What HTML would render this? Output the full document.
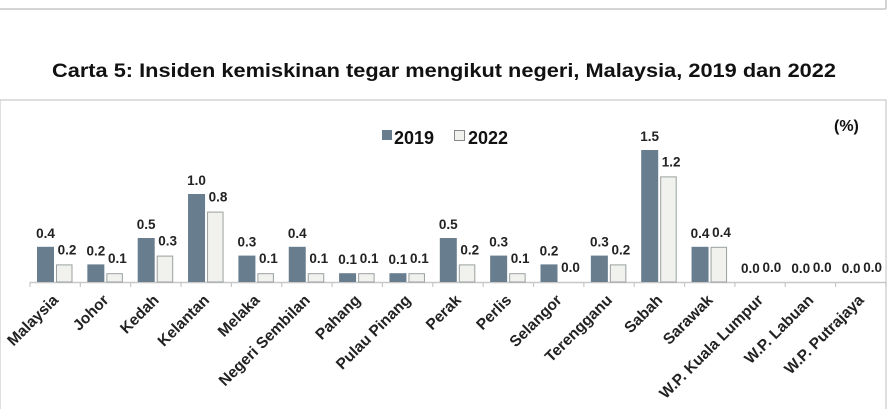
<!DOCTYPE html>
<html><head><meta charset="utf-8"><style>
html,body{margin:0;padding:0;background:#fff;}
svg{display:block;font-family:"Liberation Sans",Arial,sans-serif;font-weight:bold;}
</style></head><body>
<svg id="c" width="892" height="409" xmlns="http://www.w3.org/2000/svg">
<line x1="0" y1="9" x2="886" y2="9" stroke="#d4d4d4" stroke-width="2"/>
<line x1="886" y1="0" x2="886" y2="9" stroke="#d4d4d4" stroke-width="2"/>
<text x="444" y="77" font-size="19" text-anchor="middle" fill="#111" textLength="784" lengthAdjust="spacingAndGlyphs">Carta 5: Insiden kemiskinan tegar mengikut negeri, Malaysia, 2019 dan 2022</text>
<rect x="0" y="100" width="886" height="320" fill="none" stroke="#d4d4d4" stroke-width="1.5"/>
<rect x="382" y="130" width="10" height="10" fill="#687d8e"/>
<text x="394" y="144" font-size="18" fill="#111">2019</text>
<rect x="454.5" y="130.5" width="10" height="10" fill="#f1f2ed" stroke="#888" stroke-width="1"/>
<text x="468" y="144" font-size="18" fill="#111">2022</text>
<text x="834" y="131" font-size="16" fill="#111">(%)</text>
<g id="g"></g>
</svg>
<script>
var names=["Malaysia","Johor","Kedah","Kelantan","Melaka","Negeri Sembilan","Pahang","Pulau Pinang","Perak","Perlis","Selangor","Terengganu","Sabah","Sarawak","W.P. Kuala Lumpur","W.P. Labuan","W.P. Putrajaya"];
var a=[.4,.2,.5,1.0,.3,.4,.1,.1,.5,.3,.2,.3,1.5,.4,0,0,0];
var b=[.2,.1,.3,.8,.1,.1,.1,.1,.2,.1,0,.2,1.2,.4,0,0,0];
var s="",base=282,k=88,w=50.35;
s+='<line x1="30" y1="282.5" x2="886" y2="282.5" stroke="#c8c8c8" stroke-width="1.5"/>';
for(var i=0;i<=17;i++){var x=30+i*w;s+='<line x1="'+x+'" y1="282" x2="'+x+'" y2="287" stroke="#c8c8c8" stroke-width="1.2"/>';}
for(var i=0;i<17;i++){
 var x0=30+i*w,h1=a[i]*k,h2=b[i]*k;
 if(h1>0)s+='<rect x="'+(x0+7)+'" y="'+(base-h1)+'" width="17" height="'+h1+'" fill="#687d8e"/>';
 if(h2>0)s+='<rect x="'+(x0+26.5)+'" y="'+(base-h2+0.5)+'" width="15.5" height="'+(h2-0.5)+'" fill="#f1f2ed" stroke="#9aa0a0" stroke-width="1"/>';
 s+='<text x="'+(x0+15.5)+'" y="'+(base-h1-9)+'" font-size="13.5" text-anchor="middle" fill="#222">'+a[i].toFixed(1)+'</text>';
 s+='<text x="'+(x0+37)+'" y="'+(base-h2-10)+'" font-size="13.5" text-anchor="middle" fill="#222">'+b[i].toFixed(1)+'</text>';
 var cx=x0+w/2+4;
 s+='<text x="'+cx+'" y="301" font-size="15.5" text-anchor="end" fill="#222" transform="rotate(-45 '+cx+' 301)">'+names[i]+'</text>';
}
document.getElementById("g").innerHTML=s;
</script>
</body></html>
